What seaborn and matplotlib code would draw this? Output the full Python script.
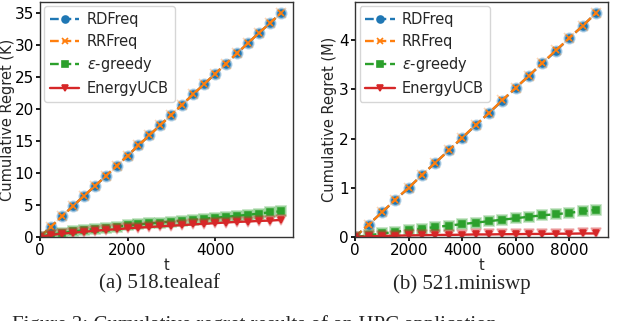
import matplotlib
matplotlib.use("Agg")
import matplotlib.pyplot as plt
import seaborn as sns

# (a) 518.tealeaf, regret in thousands
t_a = [0, 250, 500, 750, 1000, 1250, 1500, 1750, 2000, 2250, 2500, 2750,
       3000, 3250, 3500, 3750, 4000, 4250, 4500, 4750, 5000, 5250, 5500]
rdfreq_a = [0, 1.6, 3.2, 4.8, 6.4, 7.9, 9.5, 11.1, 12.7, 14.3, 15.9, 17.5,
            19.1, 20.7, 22.3, 23.9, 25.5, 27.1, 28.7, 30.3, 31.9, 33.4, 35.0]
rrfreq_a = [0, 1.6, 3.2, 4.8, 6.4, 7.95, 9.5, 11.1, 12.7, 14.3, 15.9, 17.5,
            19.1, 20.7, 22.3, 23.9, 25.5, 27.1, 28.7, 30.3, 31.9, 33.4, 35.0]
greedy_a = [0, 0.35, 0.6, 0.85, 1.05, 1.25, 1.45, 1.6, 1.8, 1.95, 2.1, 2.25,
            2.4, 2.55, 2.7, 2.85, 3.0, 3.15, 3.3, 3.45, 3.65, 3.85, 4.0]
ucb_a = [0, 0.3, 0.5, 0.65, 0.8, 0.95, 1.1, 1.2, 1.35, 1.45, 1.55, 1.65,
         1.75, 1.85, 1.95, 2.05, 2.15, 2.25, 2.35, 2.4, 2.5, 2.55, 2.65]

# (b) 521.miniswp, regret in millions
t_b = [0, 500, 1000, 1500, 2000, 2500, 3000, 3500, 4000, 4500, 5000, 5500,
       6000, 6500, 7000, 7500, 8000, 8500, 9000]
rdfreq_b = [0, 0.25, 0.5, 0.75, 1.0, 1.26, 1.51, 1.76, 2.01, 2.27, 2.52,
            2.77, 3.03, 3.28, 3.53, 3.78, 4.04, 4.29, 4.55]
rrfreq_b = [0, 0.25, 0.5, 0.76, 1.0, 1.26, 1.51, 1.76, 2.02, 2.27, 2.52,
            2.78, 3.03, 3.28, 3.54, 3.79, 4.04, 4.29, 4.55]
greedy_b = [0, 0.03, 0.07, 0.10, 0.14, 0.17, 0.20, 0.23, 0.26, 0.29, 0.32,
            0.35, 0.38, 0.41, 0.44, 0.46, 0.49, 0.52, 0.55]
ucb_b = [0, 0.01, 0.02, 0.025, 0.03, 0.035, 0.04, 0.04, 0.045, 0.05, 0.05,
         0.055, 0.055, 0.06, 0.06, 0.065, 0.065, 0.07, 0.07]

labels = ["RDFreq", "RRFreq", r"$\varepsilon$-greedy", "EnergyUCB"]
colors = ["#1f77b4", "#ff7f0e", "#2ca02c", "#d62728"]
markers = ["o", "x", "s", "v"]
styles = ["--", "--", "--", "-"]

sns.set_theme(style="ticks")
plt.rcParams["font.family"] = ["DejaVu Sans"]

fig = plt.figure(figsize=(6.4, 3.21), dpi=100)
ax_a = fig.add_axes([0.0625, 0.262, 0.395, 0.732])
ax_b = fig.add_axes([0.555, 0.262, 0.395, 0.732])


def draw(ax, t, series, ylabel, label_x):
    for ys, lab, c, m, ls in zip(series, labels, colors, markers, styles):
        # faint halo markers behind the main ones
        ax.plot(t, ys, linestyle="none", marker=m, markersize=7.5, color=c,
                alpha=0.3, markeredgewidth=1.2)
        sns.lineplot(x=t, y=ys, ax=ax, label=lab, color=c, marker=m,
                     markersize=5, linestyle=ls, linewidth=1.7,
                     markeredgecolor=c, markeredgewidth=1.2)
    ax.set_xlim(left=0)
    ax.set_ylim(bottom=0)
    ax.set_xlabel("t", fontsize=10.5)
    ax.xaxis.set_label_coords(0.5, -0.09)
    ax.set_ylabel(ylabel, fontsize=10.5)
    ax.yaxis.set_label_coords(label_x, 0.5)
    ax.tick_params(labelsize=11, length=3, pad=1.5, colors="black")
    for s in ax.spines.values():
        s.set_color("#333333")
        s.set_linewidth(1.0)
    ax.legend(loc="upper left", fontsize=10.5, handlelength=2.0,
              handletextpad=0.5, borderpad=0.4, labelspacing=0.45,
              frameon=True, edgecolor="#cccccc", borderaxespad=0.3)


draw(ax_a, t_a, [rdfreq_a, rrfreq_a, greedy_a, ucb_a],
     "Cumulative Regret (K)", -0.098)
ax_a.set_xticks([0, 2000, 4000])
ax_a.set_yticks([0, 5, 10, 15, 20, 25, 30, 35])

draw(ax_b, t_b, [rdfreq_b, rrfreq_b, greedy_b, ucb_b],
     "Cumulative Regret (M)", -0.071)
ax_b.set_xticks([0, 2000, 4000, 6000, 8000])
ax_b.set_yticks([0, 1, 2, 3, 4])

serif = ["Liberation Serif", "DejaVu Serif"]
fig.text(0.249, 0.115, "(a) 518.tealeaf", ha="center", va="center",
         fontsize=15, family=serif)
fig.text(0.722, 0.115, "(b) 521.miniswp", ha="center", va="center",
         fontsize=15, family=serif)
fig.text(0.018, -0.012, "Figure 3: Cumulative regret results of an HPC application",
         ha="left", va="center", fontsize=15, family=serif)

fig.savefig("out.png", dpi=100)
